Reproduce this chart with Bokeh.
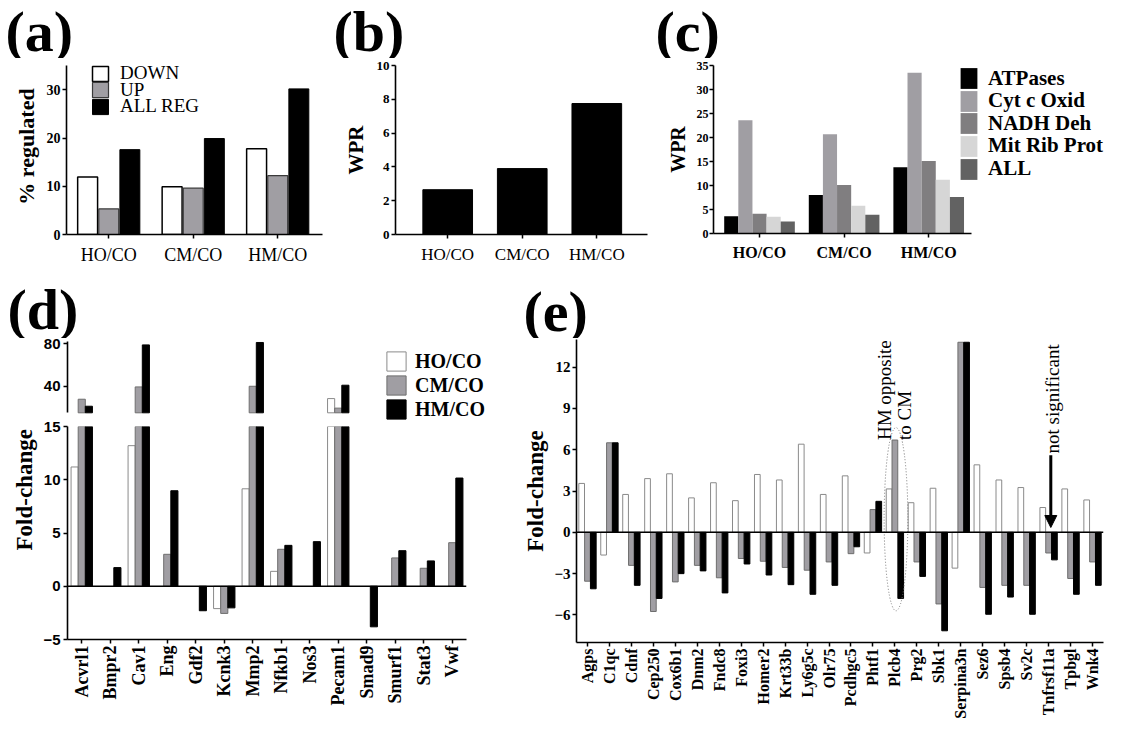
import math
from bokeh.plotting import figure
from bokeh.models import (Range1d, FixedTicker, Legend, LegendItem, Label, Span, Title,
                          Arrow, NormalHead, ColumnDataSource)
from bokeh.layouts import row, column
from bokeh.embed import file_html
from bokeh.resources import INLINE

SERIF = "Liberation Serif"
SANS = "Liberation Sans"
GREY = "#a09ea3"

# ---------------- data ----------------
groups = ["HO/CO", "CM/CO", "HM/CO"]

a_series = ["DOWN", "UP", "ALL REG"]
a_down = [11.9, 9.9, 17.8]
a_up = [5.3, 9.6, 12.2]
a_all = [17.6, 19.9, 30.2]

b_wpr = [2.65, 3.9, 7.75]

c_series = ["ATPases", "Cyt c Oxid", "NADH Deh", "Mit Rib Prot", "ALL"]
c_atp = [3.6, 8.0, 13.8]
c_cyt = [23.6, 20.7, 33.5]
c_nadh = [4.1, 10.1, 15.1]
c_mit = [3.5, 5.8, 11.2]
c_all = [2.5, 3.9, 7.6]

d_genes = ["Acvrl1", "Bmpr2", "Cav1", "Eng", "Gdf2", "Kcnk3", "Mmp2", "Nfkb1",
           "Nos3", "Pecam1", "Smad9", "Smurf1", "Stat3", "Vwf"]
d_ho = [11.2, 0, 13.2, 0, 0, -2.1, 9.15, 1.4, 0, 28.4, 0, 0, 0, 0]
d_cm = [27.8, 0, 39.4, 3.0, 0, -2.55, 40.0, 3.47, 0, 19.4, 0, 2.66, 1.69, 4.09]
d_hm = [21.2, 1.75, 79.0, 8.97, -2.3, -2.03, 81.3, 3.84, 4.19, 41.0, -3.81, 3.34, 2.38, 10.16]
d_break = 15

e_genes = ["Agps", "C1qc", "Cdnf", "Cep250", "Cox6b1", "Dnm2", "Fndc8", "Foxi3",
           "Homer2", "Krt33b", "Ly6g5c", "Olr75", "Pcdhgc5", "Phtf1", "Plcb4", "Prg2",
           "Sbk1", "Serpina3n", "Sez6", "Spsb4", "Sv2c", "Tnfrsf11a", "Tpbgl", "Wnk4"]
e_ho = [3.55, -1.65, 2.75, 3.9, 4.25, 2.5, 3.6, 2.3, 4.2, 3.8, 6.4, 2.75, 4.1, -1.5,
        3.15, 2.15, 3.2, -2.6, 4.9, 3.8, 3.25, 1.8, 3.15, 2.35]
e_cm = [-3.55, 6.5, -2.4, -5.75, -3.6, -2.4, -3.3, -1.9, -2.1, -2.55, -2.75, -2.15,
        -1.55, 1.65, 6.7, -2.15, -5.2, 13.8, -4.0, -3.85, -3.85, -1.5, -3.35, -2.15]
e_hm = [-4.1, 6.5, -3.85, -4.8, -3.0, -2.8, -4.4, -2.3, -3.1, -3.8, -4.5, -3.85,
        -1.05, 2.25, -4.8, -3.2, -7.15, 13.8, -5.95, -4.7, -5.95, -2.0, -4.5, -3.85]
e_opposite_gene = "Plcb4"
e_ns_gene = "Tnfrsf11a"


# ---------------- helpers ----------------
def base_fig(w, h, left, right, top, bottom, xr, yr):
    p = figure(width=w, height=h, x_range=xr, y_range=yr, output_backend="svg",
               toolbar_location=None, title=None, min_border_left=left,
               min_border_right=right, min_border_top=top, min_border_bottom=bottom)
    p.frame_align = False
    p.xgrid.visible = False
    p.ygrid.visible = False
    p.outline_line_color = None
    return p


def strip_fig(w, h, labels):
    p = figure(width=w, height=h, x_range=Range1d(0, w), y_range=Range1d(0, h),
               output_backend="svg", toolbar_location=None, title=None, min_border=0,
               x_axis_location=None, y_axis_location=None)
    p.frame_align = False
    p.xgrid.visible = False
    p.ygrid.visible = False
    p.outline_line_color = None
    for text, x, y in labels:
        p.add_layout(Label(x=x, y=y, x_units="screen", y_units="screen", text=text,
                           text_font=SERIF, text_font_style="bold", text_font_size="58px",
                           text_baseline="middle", text_align="left",
                           text_color="black"))
    return p


def style_axis(ax, font, size, style, standoff=2):
    ax.axis_line_width = 1.6
    ax.axis_line_color = "black"
    ax.major_tick_line_width = 1.5
    ax.major_tick_in = 0
    ax.major_tick_out = 4
    ax.minor_tick_line_color = None
    ax.major_label_text_font = font
    ax.major_label_text_font_size = size
    ax.major_label_text_font_style = style
    ax.major_label_text_color = "black"
    ax.major_label_standoff = standoff


def cat_axis(ax, names):
    ax.ticker = FixedTicker(ticks=[i + 0.5 for i in range(len(names))])
    ax.major_label_overrides = {i + 0.5: n for i, n in enumerate(names)}


def ylabel(ax, text, size, standoff):
    ax.axis_label = text
    ax.axis_label_text_font = SERIF
    ax.axis_label_text_font_size = size
    ax.axis_label_text_font_style = "bold"
    ax.axis_label_text_color = "black"
    ax.axis_label_standoff = standoff


def bars(p, values, offset, width, base=0, **kw):
    keep = [(i, v) for i, v in enumerate(values) if v != 0 and (base == 0 or v > base)]
    src = ColumnDataSource(dict(x=[i + 0.5 + offset for i, _ in keep],
                                top=[v for _, v in keep]))
    return p.vbar(x="x", top="top", bottom=base, width=width, source=src, **kw)


def one_legend(items, loc, gw, gh, standoff, font_size, style):
    return Legend(items=items, location=loc, glyph_width=gw, glyph_height=gh,
                  spacing=0, label_standoff=standoff, padding=0, margin=0,
                  border_line_color=None, background_fill_alpha=0,
                  label_text_font=SERIF, label_text_font_size=font_size,
                  label_text_font_style=style, label_text_color="black",
                  label_height=5)


def stacked_legend(p, renderers, labels, x, first_top, pitch, gw, gh, fs, style, standoff):
    # first_top: distance from frame bottom up to the top of the first item
    h = max(gh, 1.2 * fs)
    for i, (r, lab) in enumerate(zip(renderers, labels)):
        y = first_top - i * pitch - h
        p.add_layout(one_legend([LegendItem(label=lab, renderers=[r])], (x, y),
                                gw, gh, standoff, "%dpx" % fs, style))


# ---------------- panel labels ----------------
strip_top = strip_fig(1122, 58, [("(a)", 5, 27), ("(b)", 333, 27), ("(c)", 655, 27)])
strip_bot = strip_fig(1122, 58, [("(d)", 7, 29), ("(e)", 523, 27)])

# ---------------- (a) ----------------
pa = base_fig(340, 222, 66, 18, 0, 46, Range1d(0, 3.03), Range1d(0, 36.5))
wa = 0.236
ra1 = bars(pa, a_down, -0.25, wa, fill_color="white", line_color="black", line_width=1.5)
ra2 = bars(pa, a_up, 0.0, wa, fill_color=GREY, line_color="#3a3a3a", line_width=1.2)
ra3 = bars(pa, a_all, 0.25, wa, fill_color="black", line_color="black", line_width=1)
style_axis(pa.xaxis[0], SERIF, "18px", "normal", 6)
cat_axis(pa.xaxis[0], groups)
style_axis(pa.yaxis[0], SERIF, "14px", "bold", 2)
pa.yaxis[0].ticker = FixedTicker(ticks=[0, 10, 20, 30])
pa.yaxis[0].bounds = (0, 35)
ylabel(pa.yaxis[0], "% regulated", "22px", 5)
stacked_legend(pa, [ra1, ra2, ra3], a_series, 24, 172.6, 16.5, 20, 19, 19, "normal", 10)

# ---------------- (b) ----------------
pb = base_fig(310, 222, 48, 3, 7, 46, Range1d(-0.2, 3.18), Range1d(0, 10))
bars(pb, b_wpr, 0.0, 0.666, fill_color="black", line_color="black")
style_axis(pb.xaxis[0], SERIF, "17px", "normal", 6)
cat_axis(pb.xaxis[0], groups)
style_axis(pb.yaxis[0], SERIF, "13px", "bold", 2)
pb.yaxis[0].ticker = FixedTicker(ticks=[0, 2, 4, 6, 8, 10])
ylabel(pb.yaxis[0], "WPR", "21px", 6)

# ---------------- (c) ----------------
pc = base_fig(472, 222, 63, 0, 7, 47, Range1d(-0.044, 4.791), Range1d(0, 35))
wc = 0.167
c_vals = [c_atp, c_cyt, c_nadh, c_mit, c_all]
c_cols = ["black", GREY, "#807e80", "#d6d6d6", "#626262"]
c_rend = []
for k, (vals, col) in enumerate(zip(c_vals, c_cols)):
    c_rend.append(bars(pc, vals, (k - 2) * wc, wc, fill_color=col, line_color=None))
style_axis(pc.xaxis[0], SERIF, "16px", "bold", 6)
cat_axis(pc.xaxis[0], groups)
pc.xaxis[0].bounds = (-0.044, 3.01)
style_axis(pc.yaxis[0], SERIF, "12px", "bold", 1)
pc.yaxis[0].ticker = FixedTicker(ticks=[0, 5, 10, 15, 20, 25, 30, 35])
ylabel(pc.yaxis[0], "WPR", "20px", 5)
stacked_legend(pc, c_rend, c_series, 245, 167.9, 22.6, 21, 26, 21, "bold", 9)

# ---------------- (d) broken axis ----------------
wd = 0.25
d_styles = [dict(fill_color="white", line_color="#8a8a8a", line_width=1),
            dict(fill_color=GREY, line_color="#6e6e6e", line_width=1),
            dict(fill_color="black", line_color="black", line_width=1)]
d_vals = [d_ho, d_cm, d_hm]

pu = base_fig(520, 83, 67, 0, 3, 0, Range1d(0, 15.895), Range1d(6.8, 82.2))
pl = base_fig(520, 308, 67, 54, 5, 90, Range1d(0, len(d_genes)), Range1d(-5, d_break))
d_items = []
for k, (vals, st) in enumerate(zip(d_vals, d_styles)):
    r = bars(pu, vals, (k - 1) * wd, wd, base=d_break, **st)
    bars(pl, vals, (k - 1) * wd, wd, **st)
    d_items.append(LegendItem(label=groups[k], renderers=[r]))
pu.xaxis.visible = False
style_axis(pu.yaxis[0], SANS, "15px", "bold", 3)
pu.yaxis[0].ticker = FixedTicker(ticks=[40, 80])
pu.yaxis[0].bounds = (d_break, 82.2)
style_axis(pl.yaxis[0], SANS, "15px", "bold", 3)
pl.yaxis[0].ticker = FixedTicker(ticks=[-5, 0, 5, 10, 15])
style_axis(pl.xaxis[0], SERIF, "18px", "bold", 2)
cat_axis(pl.xaxis[0], d_genes)
pl.xaxis[0].major_label_orientation = math.pi / 2
pl.add_layout(Span(location=0, dimension="width", line_color="black", line_width=1.6))
pl.add_layout(Title(text="Fold-change", align="left", offset=89, standoff=8,
                    text_font=SERIF, text_font_style="bold", text_font_size="23px",
                    text_color="black"), "left")
pu.add_layout(one_legend(d_items, (317, 0), 24, 24, 7, "20px", "bold"))

# ---------------- (e) ----------------
pe = base_fig(602, 391, 52, 19, 1, 87, Range1d(0, len(e_genes)), Range1d(-8, 14))
we = 0.26
e_vals = [e_ho, e_cm, e_hm]
for k, (vals, st) in enumerate(zip(e_vals, d_styles)):
    bars(pe, vals, (k - 1) * 0.265, we, **st)
style_axis(pe.xaxis[0], SERIF, "16px", "bold", 2)
cat_axis(pe.xaxis[0], e_genes)
pe.xaxis[0].major_label_orientation = math.pi / 2
style_axis(pe.yaxis[0], SERIF, "15px", "bold", 2)
pe.yaxis[0].ticker = FixedTicker(ticks=[-6, -3, 0, 3, 6, 9, 12])
ylabel(pe.yaxis[0], "Fold-change", "23px", 3)
pe.add_layout(Span(location=0, dimension="width", line_color="black", line_width=1.6))

# highlight of the gene where HM is opposite to CM
io = e_genes.index(e_opposite_gene)
hi = max(e_cm[io], e_hm[io])
lo = min(e_cm[io], e_hm[io])
pe.ellipse(x=[io + 0.55], y=[(hi + lo) / 2], width=[1.08], height=[hi - lo + 1.8],
           fill_color=None, line_color="#777777", line_dash="1 2", line_width=1)
for dx, txt in [(-0.46, "HM opposite"), (0.45, "to CM")]:
    pe.add_layout(Label(x=io + 0.5 + dx, y=6.7, text=txt, angle=math.pi / 2,
                        text_align="left", text_baseline="middle", text_font=SERIF,
                        text_font_size="19px", text_color="black"))
ins = e_genes.index(e_ns_gene)
pe.add_layout(Label(x=ins + 0.67, y=5.72, text="not significant", angle=math.pi / 2,
                    text_align="left", text_baseline="middle", text_font=SERIF,
                    text_font_size="19px", text_color="black"))
pe.add_layout(Arrow(end=NormalHead(size=12, fill_color="black", line_color="black"),
                    x_start=ins + 0.6, y_start=5.6, x_end=ins + 0.6, y_end=0.35,
                    line_width=3, line_color="black"))

layout = column(strip_top, row(pa, pb, pc), strip_bot, row(column(pu, pl), pe))
open("out.html", "w").write(file_html(layout, INLINE))
